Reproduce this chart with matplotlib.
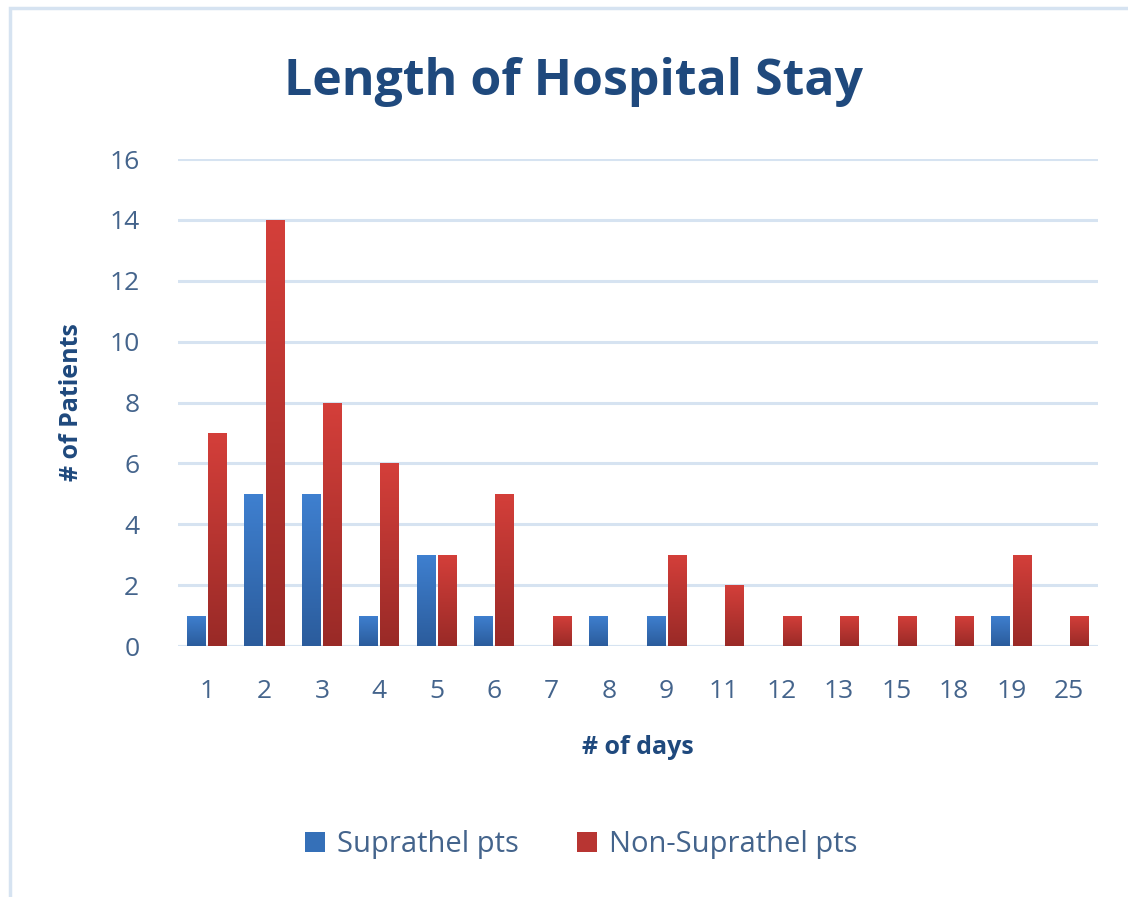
import numpy as np
import matplotlib.pyplot as plt
from matplotlib.patches import Rectangle, Patch
from matplotlib.colors import LinearSegmentedColormap

dni = ['1', '2', '3', '4', '5', '6', '7', '8', '9', '11', '12', '13', '15', '18', '19', '25']
suprathel = [1, 5, 5, 1, 3, 1, 0, 1, 1, 0, 0, 0, 0, 0, 1, 0]
non_suprathel = [7, 14, 8, 6, 3, 5, 1, 0, 3, 2, 1, 1, 1, 1, 3, 1]

granat = '#1f497d'
tekst = '#44648c'
siatka = '#d6e3f1'

plt.rcParams['font.family'] = ['Open Sans', 'DejaVu Sans']

fig = plt.figure(figsize=(11.28, 8.97), dpi=100)
ax = fig.add_axes([0.158, 0.2798, 0.815, 0.5429])

x = np.arange(len(dni))
szer = 0.33
przes = 0.185

# gradient: jasniej u gory, ciemniej u dolu
cm_blue = LinearSegmentedColormap.from_list('b', ['#2b5c9c', '#3f80d0'])
cm_red = LinearSegmentedColormap.from_list('r', ['#992a27', '#d43f3a'])
grad = np.linspace(0, 1, 256).reshape(-1, 1)

def slupki(pozycje, wartosci, cmap):
    bary = ax.bar(pozycje, wartosci, szer, color='none', edgecolor='none', zorder=3)
    for b in bary:
        h = b.get_height()
        if h <= 0:
            continue
        x0 = b.get_x()
        im = ax.imshow(grad, cmap=cmap, aspect='auto', origin='lower',
                       extent=[x0, x0 + b.get_width(), 0, h], zorder=3)
        im.set_clip_path(b)
    return bary

slupki(x - przes, suprathel, cm_blue)
slupki(x + przes, non_suprathel, cm_red)

ax.set_xlim(-0.5, len(dni) - 0.5)
ax.set_ylim(0, 16)
ax.set_yticks(range(0, 17, 2))
ax.set_xticks(x)
ax.set_xticklabels(dni)
ax.tick_params(axis='both', length=0, labelsize=19, colors=tekst)
ax.tick_params(axis='x', pad=24)
ax.tick_params(axis='y', pad=28)
ax.grid(axis='y', color=siatka, linewidth=2.2, zorder=0)
ax.set_axisbelow(True)
for s in ax.spines.values():
    s.set_visible(False)
ax.axhline(0, color=siatka, linewidth=2.2, zorder=1)

ax.set_xlabel('# of days', fontsize=18, fontweight='bold', color=granat, labelpad=22)
ax.set_ylabel('# of Patients', fontsize=18, fontweight='bold', color=granat, labelpad=18)

fig.suptitle('Length of Hospital Stay', x=0.508, y=0.937, fontsize=36,
             fontweight='bold', color=granat)

uchwyty = [Patch(facecolor='#3570b8', label='Suprathel pts'),
           Patch(facecolor='#b83532', label='Non-Suprathel pts')]
fig.legend(handles=uchwyty, loc='center', bbox_to_anchor=(0.515, 0.058), ncol=2,
           frameon=False, fontsize=21, labelcolor=tekst, handlelength=0.7,
           handleheight=0.7, handletextpad=0.4, columnspacing=2.0)

fig.patches.append(Rectangle((10 / 1128, -0.1), 1.2, 1 - 8 / 897 + 0.1,
                             transform=fig.transFigure, fill=False,
                             edgecolor=siatka, linewidth=2.5))

fig.savefig('out.png', dpi=100)
